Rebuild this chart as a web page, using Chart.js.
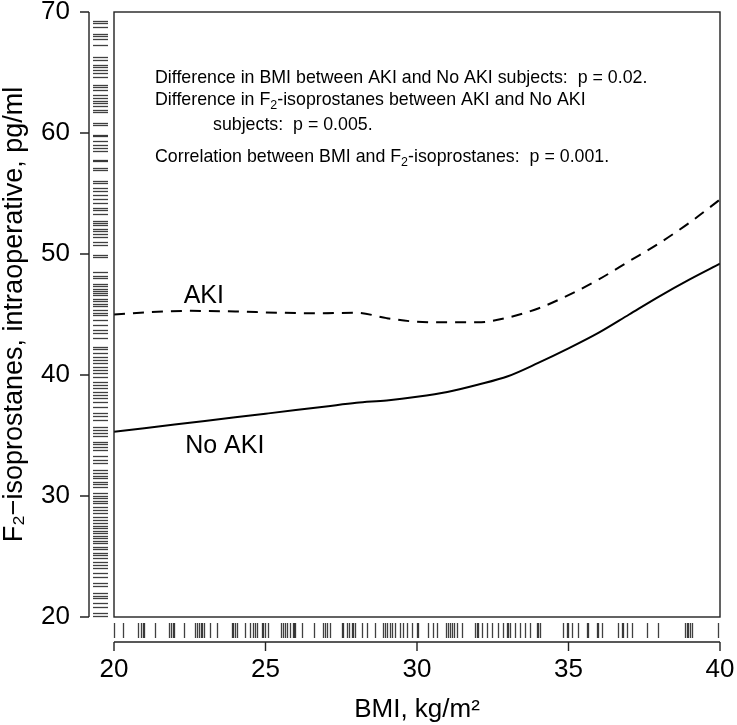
<!DOCTYPE html>
<html>
<head>
<meta charset="utf-8">
<script src="https://cdn.jsdelivr.net/npm/chart.js@4.4.1/dist/chart.umd.min.js"></script>
<style>
  html, body { margin: 0; padding: 0; background: #fff; }
</style>
</head>
<body>
<canvas id="chart" width="737" height="725"></canvas>
<script>
// smoothed curves
const bmiAki = [20, 21.2, 22.5, 24, 25.4, 26.8, 28, 29, 30, 31, 32, 33, 34, 35, 36, 37, 38, 39, 40];
const akiValues = [45.0, 45.2, 45.3, 45.25, 45.15, 45.1, 45.15, 44.7, 44.4, 44.35, 44.35, 44.75, 45.5, 46.6, 47.9, 49.4, 50.9, 52.6, 54.5];
const bmiNoAki = [20, 21, 22, 23, 24, 25, 26, 27, 28, 29, 30, 31, 32, 33, 34, 35, 36, 37, 38, 39, 40];
const noAkiValues = [35.3, 35.6, 35.9, 36.2, 36.5, 36.8, 37.1, 37.4, 37.7, 37.9, 38.2, 38.6, 39.2, 39.9, 41.0, 42.2, 43.5, 45.0, 46.5, 47.9, 49.2];

// rug marks
const bmiRug = [20.0, 20.3, 20.8, 20.9, 20.95, 21.0, 21.35, 21.8, 21.88, 21.94, 21.99, 22.3,
  22.67, 22.75, 22.82, 22.86, 22.92, 22.98, 23.17, 23.39, 23.88, 23.94, 23.99, 24.07, 24.32,
  24.49, 24.58, 24.65, 24.73, 24.87, 24.93, 24.98, 25.09, 25.5, 25.57, 25.64, 25.7, 25.81,
  25.9, 25.94, 25.99, 26.19, 26.6, 26.91, 26.96, 27.02, 27.13, 27.51, 27.56, 27.7, 27.77,
  27.84, 27.89, 27.95, 28.17, 28.34, 28.61, 28.89, 28.94, 29.0, 29.11, 29.16, 29.27, 29.44,
  29.55, 29.66, 29.83, 29.99, 30.04, 30.37, 30.53, 30.65, 30.97, 31.03, 31.09, 31.14, 31.23,
  31.31, 31.47, 31.91, 31.97, 32.02, 32.13, 32.3, 32.46, 32.68, 32.85, 32.96, 33.01, 33.07,
  33.23, 33.4, 33.56, 33.73, 33.95, 34.0, 34.06, 34.83, 34.94, 34.99, 35.1, 35.32, 35.6,
  35.65, 35.93, 35.98, 36.09, 36.64, 36.75, 36.81, 36.92, 37.08, 37.58, 37.96, 38.84, 38.9,
  38.95, 39.01, 39.06, 39.94];
const isoRug = [69.28, 69.09, 68.73, 68.18, 67.99, 67.8, 67.24, 66.25, 66.06, 65.59, 65.43,
  65.23, 64.96, 64.6, 64.0, 63.77, 63.58, 63.11, 62.89, 62.67, 62.48, 62.2, 61.93, 61.73,
  60.83, 60.69, 59.86, 59.72, 59.31, 59.03, 58.76, 58.48, 57.8, 57.66, 57.11, 56.97, 56.0,
  55.87, 55.45, 55.23, 54.85, 54.57, 54.21, 53.8, 53.66, 53.31, 52.7, 52.56, 52.42, 52.09,
  51.93, 51.65, 51.38, 50.99, 50.77, 49.94, 49.72, 48.51, 48.15, 48.02, 47.52, 47.33, 47.13,
  46.97, 46.78, 46.58, 46.31, 46.09, 45.87, 45.67, 45.4, 45.09, 44.96, 44.54, 44.13, 43.72,
  43.5, 43.03, 42.34, 42.12, 41.79, 41.51, 41.24, 40.96, 40.69, 40.41, 40.14, 39.86, 39.45,
  39.17, 38.9, 38.62, 38.35, 38.07, 37.79, 37.38, 36.83, 36.61, 36.28, 35.73, 35.45, 35.18,
  34.96, 34.49, 34.3, 34.07, 33.8, 33.3, 32.97, 32.7, 32.15, 31.87, 31.65, 31.46, 31.18,
  30.99, 30.77, 30.22, 30.0, 29.81, 29.61, 29.39, 29.12, 28.84, 28.62, 28.29, 28.01, 27.74,
  27.52, 27.33, 27.13, 26.91, 26.69, 26.5, 26.31, 26.09, 25.81, 25.59, 25.32, 25.12, 24.85,
  24.57, 24.3, 24.02, 23.61, 23.33, 22.78, 22.56, 21.95, 21.73, 21.54, 21.13, 20.85, 20.3,
  20.05];

const xTicks = [20, 25, 30, 35, 40];
const yTicks = [20, 30, 40, 50, 60, 70];

const FONT = "'Liberation Sans', Arial, Helvetica, sans-serif";

// text with subscript pieces: [text, isSub]
function drawParts(ctx, parts, x, y, size) {
  let cx = x;
  parts.forEach(([t, sub]) => {
    ctx.font = (sub ? size * 0.7 : size) + "px " + FONT;
    ctx.fillText(t, cx, sub ? y + size * 0.25 : y);
    cx += ctx.measureText(t).width;
  });
}

const rStyle = {
  id: "rStyle",
  afterDraw(chart) {
    const { ctx, chartArea: a, scales: { x, y } } = chart;
    ctx.save();

    // box
    ctx.strokeStyle = "#222";
    ctx.lineWidth = 1.4;
    ctx.strokeRect(a.left, a.top, a.right - a.left, a.bottom - a.top);

    // offset axes
    const yAxisX = a.left - 25;
    ctx.beginPath();
    ctx.moveTo(yAxisX, y.getPixelForValue(20));
    ctx.lineTo(yAxisX, y.getPixelForValue(70));
    yTicks.forEach(v => {
      const p = y.getPixelForValue(v);
      ctx.moveTo(yAxisX, p);
      ctx.lineTo(yAxisX - 9, p);
    });
    const xAxisY = a.bottom + 25;
    ctx.moveTo(x.getPixelForValue(20), xAxisY);
    ctx.lineTo(x.getPixelForValue(40), xAxisY);
    xTicks.forEach(v => {
      const p = x.getPixelForValue(v);
      ctx.moveTo(p, xAxisY);
      ctx.lineTo(p, xAxisY + 9);
    });
    ctx.stroke();

    // rugs
    ctx.strokeStyle = "rgba(0,0,0,0.75)";
    ctx.lineWidth = 1.3;
    isoRug.forEach(v => {
      const p = Math.round(y.getPixelForValue(v)) + 0.5;
      ctx.beginPath();
      ctx.moveTo(a.left - 21, p);
      ctx.lineTo(a.left - 6, p);
      ctx.stroke();
    });
    bmiRug.forEach(v => {
      const p = Math.round(x.getPixelForValue(v)) + 0.5;
      ctx.beginPath();
      ctx.moveTo(p, a.bottom + 6);
      ctx.lineTo(p, a.bottom + 21);
      ctx.stroke();
    });

    // curve labels
    ctx.fillStyle = "#000";
    ctx.textBaseline = "alphabetic";
    ctx.textAlign = "left";
    ctx.font = "25px " + FONT;
    ctx.fillText("AKI", x.getPixelForValue(22.3), y.getPixelForValue(45.95));
    ctx.fillText("No AKI", x.getPixelForValue(22.35), y.getPixelForValue(33.55));

    // notes
    const nx = a.left + 41;
    const fs = 17.8;
    drawParts(ctx, [["Difference in BMI between AKI and No AKI subjects:  p = 0.02.", false]], nx, a.top + 71, fs);
    drawParts(ctx, [["Difference in F", false], ["2", true], ["-isoprostanes between AKI and No AKI", false]], nx, a.top + 93, fs);
    drawParts(ctx, [["subjects:  p = 0.005.", false]], nx + 58, a.top + 118, fs);
    drawParts(ctx, [["Correlation between BMI and F", false], ["2", true], ["-isoprostanes:  p = 0.001.", false]], nx, a.top + 150, fs);

    ctx.restore();
  }
};

new Chart(document.getElementById("chart"), {
  type: "line",
  data: {
    datasets: [
      {
        label: "AKI",
        data: bmiAki.map((b, i) => ({ x: b, y: akiValues[i] })),
        borderColor: "#000",
        borderWidth: 2,
        borderDash: [11, 8],
        pointRadius: 0,
        cubicInterpolationMode: "monotone"
      },
      {
        label: "No AKI",
        data: bmiNoAki.map((b, i) => ({ x: b, y: noAkiValues[i] })),
        borderColor: "#000",
        borderWidth: 2,
        pointRadius: 0,
        cubicInterpolationMode: "monotone"
      }
    ]
  },
  options: {
    responsive: false,
    animation: false,
    devicePixelRatio: 1,
    layout: { padding: { top: 12, right: 17, left: 0, bottom: 0 } },
    plugins: { legend: { display: false }, tooltip: { enabled: false } },
    scales: {
      x: {
        type: "linear",
        min: 20,
        max: 40,
        afterBuildTicks: s => { s.ticks = xTicks.map(v => ({ value: v })); },
        afterFit: s => { s.height = 108; s.paddingLeft = 0; s.paddingRight = 0; },
        grid: { display: false, drawTicks: false },
        border: { display: false },
        ticks: { color: "#000", padding: 37, maxRotation: 0, font: { family: FONT, size: 26 } },
        title: {
          display: true,
          text: "BMI, kg/m²",
          color: "#000",
          font: { family: FONT, size: 26, lineHeight: 1 },
          padding: { top: 0, bottom: 2 }
        }
      },
      y: {
        type: "linear",
        min: 20,
        max: 70,
        afterBuildTicks: s => { s.ticks = yTicks.map(v => ({ value: v })); },
        afterFit: s => { s.width = 114; s.paddingTop = 0; s.paddingBottom = 0; },
        grid: { display: false, drawTicks: false },
        border: { display: false },
        ticks: { color: "#000", padding: 44, font: { family: FONT, size: 26 } },
        title: {
          display: true,
          text: "F₂−isoprostanes, intraoperative, pg/ml",
          color: "#000",
          font: { family: FONT, size: 27, lineHeight: 1 },
          padding: { top: 1, bottom: 0 }
        }
      }
    }
  },
  plugins: [rStyle]
});
</script>
</body>
</html>
